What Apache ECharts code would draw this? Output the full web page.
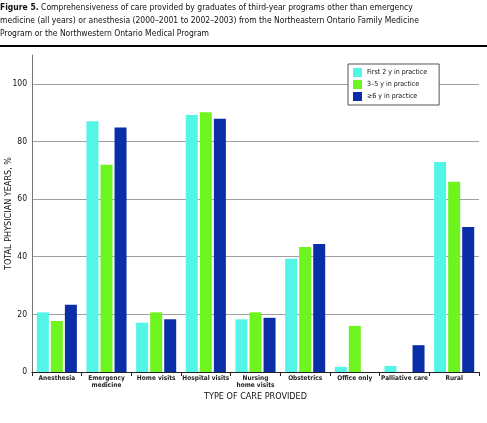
<!DOCTYPE html>
<html><head><meta charset="utf-8">
<script src="https://cdn.jsdelivr.net/npm/echarts@6/dist/echarts.min.js"></script>
<style>html,body{margin:0;padding:0;background:#fff}#c{width:487px;height:423px}</style>
</head><body><div id="c"></div>
<script>
const categories = ['Anesthesia','Emergency\nmedicine','Home visits','Hospital visits','Nursing\nhome visits','Obstetrics','Office only','Palliative care','Rural'];
const seriesNames = ['First 2 y in practice','3–5 y in practice','≥6 y in practice'];
const first2 = [20.7, 87.0, 17.1, 89.2, 18.3, 39.3, 1.8, 2.1, 72.9];
const y3to5 = [17.7, 71.9, 20.7, 90.1, 20.7, 43.4, 16.0, 0, 66.0];
const y6plus = [23.3, 84.8, 18.3, 87.9, 18.8, 44.4, 0, 9.3, 50.3];
const yTicks = [0, 20, 40, 60, 80, 100];
const colors = ['#52F5E6', '#6EF41F', '#0A2DA8'];
const FONT = '"DejaVu Sans Condensed",sans-serif';

const chart = echarts.init(document.getElementById('c'), null, {renderer: 'canvas'});
const mk = (name, data, i) => ({
  name, type: 'bar', data, barWidth: 12, barGap: '17%',
  itemStyle: {color: colors[i]}, silent: true
});
chart.setOption({
  animation: false,
  textStyle: {fontFamily: FONT},
  title: {
    left: 0, top: 1, padding: 0,
    text: '{b|Figure 5.} Comprehensiveness of care provided by graduates of third-year programs other than emergency\nmedicine (all years) or anesthesia (2000–2001 to 2002–2003) from the Northeastern Ontario Family Medicine\nProgram or the Northwestern Ontario Medical Program',
    textStyle: {
      fontFamily: FONT, fontSize: 8.5, fontWeight: 'normal', color: '#111', lineHeight: 13,
      rich: {b: {fontFamily: FONT, fontSize: 8.5, fontWeight: 'bold', color: '#111', lineHeight: 13}}
    }
  },
  graphic: [{type: 'rect', shape: {x: 0, y: 45, width: 487, height: 2}, style: {fill: '#000'}}],
  legend: {
    orient: 'vertical', left: 348, top: 64,
    backgroundColor: '#fff', borderColor: '#555', borderWidth: 1,
    padding: [4, 12, 4, 5], itemWidth: 9, itemHeight: 9, itemGap: 3,
    icon: 'rect', data: seriesNames,
    textStyle: {fontFamily: FONT, fontSize: 7, color: '#111'}
  },
  grid: {left: 32, right: 8, top: 55, bottom: 51, containLabel: false, outerBoundsMode: 'none'},
  xAxis: {
    type: 'category', data: categories,
    name: 'TYPE OF CARE PROVIDED', nameLocation: 'middle', nameGap: 20, nameMoveOverlap: false,
    nameTextStyle: {fontFamily: FONT, fontSize: 9, color: '#111'},
    axisLine: {lineStyle: {color: '#222', width: 1}},
    axisTick: {show: true, length: 4, lineStyle: {color: '#222'}},
    axisLabel: {interval: 0, fontFamily: FONT, fontSize: 6.5, fontWeight: 'bold', color: '#222', lineHeight: 7, margin: 3}
  },
  yAxis: {
    type: 'value', min: 0, max: 110, interval: 20,
    name: 'TOTAL PHYSICIAN YEARS, %', nameLocation: 'middle', nameGap: 19, nameRotate: 90, nameMoveOverlap: false,
    nameTextStyle: {fontFamily: FONT, fontSize: 9, color: '#111'},
    axisLine: {show: true, lineStyle: {color: '#777', width: 1}},
    axisTick: {show: false},
    axisLabel: {showMaxLabel: false, fontFamily: FONT, fontSize: 8.5, color: '#111', margin: 5,
      formatter: v => yTicks.includes(v) ? String(v) : ''},
    splitLine: {show: true, lineStyle: {color: ['#a0a0a0','#a0a0a0','#a0a0a0','#a0a0a0','#a0a0a0','#a0a0a0','rgba(0,0,0,0)'], width: 1}}
  },
  series: [mk(seriesNames[0], first2, 0), mk(seriesNames[1], y3to5, 1), mk(seriesNames[2], y6plus, 2)]
});
</script>
</body></html>
